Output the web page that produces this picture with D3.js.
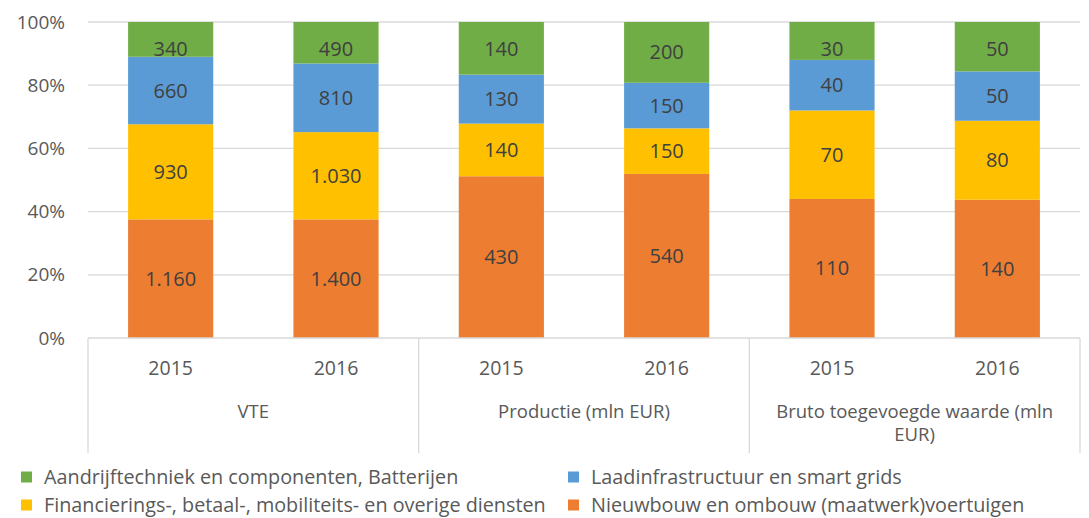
<!DOCTYPE html>
<html>
<head>
<meta charset="utf-8">
<script src="https://cdn.jsdelivr.net/npm/d3@7/dist/d3.min.js"></script>
<style>
  html, body { margin: 0; padding: 0; background: #fff; }
  svg { display: block; font-family: "Open Sans", Lato, sans-serif; }
</style>
</head>
<body>
<svg id="chart" width="1089" height="518"></svg>
<script>
// ---- data ----
const groups = ["VTE", "Productie (mln EUR)", "Bruto toegevoegde waarde (mln EUR)"];
const years = ["2015", "2016"];
const seriesNames = [
  "Nieuwbouw en ombouw (maatwerk)voertuigen",
  "Financierings-, betaal-, mobiliteits- en overige diensten",
  "Laadinfrastructuur en smart grids",
  "Aandrijftechniek en componenten, Batterijen"
];
const nieuwbouw    = [1160, 1400, 430, 540, 110, 140];
const financiering = [930, 1030, 140, 150, 70, 80];
const laadinfra    = [660, 810, 130, 150, 40, 50];
const aandrijf     = [340, 490, 140, 200, 30, 50];
const yTicks = [0, 0.2, 0.4, 0.6, 0.8, 1.0];
const legendOrder = [
  "Aandrijftechniek en componenten, Batterijen",
  "Laadinfrastructuur en smart grids",
  "Financierings-, betaal-, mobiliteits- en overige diensten",
  "Nieuwbouw en ombouw (maatwerk)voertuigen"
];

const colors = {
  "Nieuwbouw en ombouw (maatwerk)voertuigen": "#ED7D31",
  "Financierings-, betaal-, mobiliteits- en overige diensten": "#FFC000",
  "Laadinfrastructuur en smart grids": "#5B9BD5",
  "Aandrijftechniek en componenten, Batterijen": "#70AD47"
};

(function () {
// ---- build table ----
const seriesValues = [nieuwbouw, financiering, laadinfra, aandrijf];
const rows = [];
groups.forEach((g, gi) => years.forEach((yr, yi) => {
  const idx = gi * years.length + yi;
  const r = { key: idx, group: g, year: yr };
  seriesNames.forEach((s, si) => r[s] = seriesValues[si][idx]);
  rows.push(r);
}));

const svg = d3.select("#chart");
const mLeft = 88, mRight = 1080, mTop = 22, mBottom = 338;

const x = d3.scaleBand().domain(rows.map(d => d.key)).range([mLeft, mRight])
  .paddingInner(0.485).paddingOuter(0.2425);
const y = d3.scaleLinear().domain([0, 1]).range([mBottom, mTop]);

const stack = d3.stack().keys(seriesNames).offset(d3.stackOffsetExpand);
const stacked = stack(rows);

const nl = d3.formatLocale({ decimal: ",", thousands: ".", grouping: [3], currency: ["€", ""] });
const fmt = nl.format(",d");

const textColor = "#595959";
const gridColor = "#d9d9d9";

// gridlines
svg.append("g").selectAll("line").data(yTicks.filter(t => t > 0)).join("line")
  .attr("x1", mLeft).attr("x2", mRight)
  .attr("y1", d => y(d)).attr("y2", d => y(d))
  .attr("stroke", gridColor).attr("stroke-width", 1.3);

// y axis labels
const yAxis = d3.axisLeft(y).tickValues(yTicks).tickFormat(d3.format(".0%")).tickSize(0).tickPadding(0);
const ya = svg.append("g").attr("transform", `translate(${mLeft - 23},0)`).call(yAxis);
ya.select(".domain").remove();
ya.selectAll("text").attr("fill", textColor).style("font-size", "19px").style("font-family", "'Open Sans', sans-serif");

// bars
const layers = svg.append("g").selectAll("g").data(stacked).join("g")
  .attr("fill", d => colors[d.key]);
layers.selectAll("rect").data(d => d).join("rect")
  .attr("x", d => x(d.data.key))
  .attr("width", x.bandwidth())
  .attr("y", d => y(d[1]))
  .attr("height", d => y(d[0]) - y(d[1]));

// data labels
const labels = svg.append("g");
stacked.forEach(layer => {
  labels.append("g").selectAll("text").data(layer).join("text")
    .attr("x", d => x(d.data.key) + x.bandwidth() / 2)
    .attr("y", d => Math.max((y(d[0]) + y(d[1])) / 2, mTop + 27))
    .attr("dy", "0.35em")
    .attr("text-anchor", "middle")
    .attr("fill", "#404040")
    .style("font-size", "20px")
    .text(d => fmt(d.data[layer.key]));
});

// category axis
const axisG = svg.append("g");
axisG.append("line").attr("x1", mLeft).attr("x2", mRight).attr("y1", mBottom).attr("y2", mBottom)
  .attr("stroke", gridColor).attr("stroke-width", 1.3);
const groupScale = d3.scaleBand().domain(groups).range([mLeft, mRight]);
const sepX = [mLeft].concat(groups.map(g => groupScale(g) + groupScale.bandwidth()));
axisG.selectAll("line.sep").data(sepX).join("line").attr("class", "sep")
  .attr("x1", d => d).attr("x2", d => d).attr("y1", mBottom).attr("y2", 453)
  .attr("stroke", gridColor).attr("stroke-width", 1.3);

axisG.selectAll("text.year").data(rows).join("text").attr("class", "year")
  .attr("x", d => x(d.key) + x.bandwidth() / 2)
  .attr("y", 368).attr("dy", "0.35em")
  .attr("text-anchor", "middle").attr("fill", textColor).style("font-size", "19.5px")
  .text(d => d.year);

function wrapText(sel, width) {
  sel.each(function () {
    const t = d3.select(this);
    const words = t.text().split(/\s+/);
    const xx = t.attr("x"), yy = t.attr("y");
    t.text(null);
    let line = [], lineNo = 0;
    let tspan = t.append("tspan").attr("x", xx).attr("y", yy).attr("dy", "0.35em");
    words.forEach(w => {
      line.push(w);
      tspan.text(line.join(" "));
      if (tspan.node().getComputedTextLength() > width && line.length > 1) {
        line.pop();
        tspan.text(line.join(" "));
        line = [w];
        lineNo++;
        tspan = t.append("tspan").attr("x", xx).attr("y", +yy + lineNo * 23).attr("dy", "0.35em").text(w);
      }
    });
  });
}

axisG.selectAll("text.grp").data(groups).join("text").attr("class", "grp")
  .attr("x", d => groupScale(d) + groupScale.bandwidth() / 2)
  .attr("y", 412)
  .attr("text-anchor", "middle").attr("fill", textColor).style("font-size", "18.5px")
  .text(d => d)
  .call(wrapText, groupScale.bandwidth() - 20);

// legend
const legendCols = [21, 568];
const legendRows = [477, 505];
const leg = svg.append("g").selectAll("g").data(legendOrder).join("g")
  .attr("transform", (d, i) => `translate(${legendCols[i % 2]},${legendRows[Math.floor(i / 2)]})`);
leg.append("rect").attr("x", 0).attr("y", -5.5).attr("width", 11).attr("height", 11)
  .attr("fill", d => colors[d]);
leg.append("text").attr("x", 23).attr("y", 0).attr("dy", "0.35em")
  .attr("fill", textColor).style("font-size", "19.8px").text(d => d);
})();
</script>
</body>
</html>
